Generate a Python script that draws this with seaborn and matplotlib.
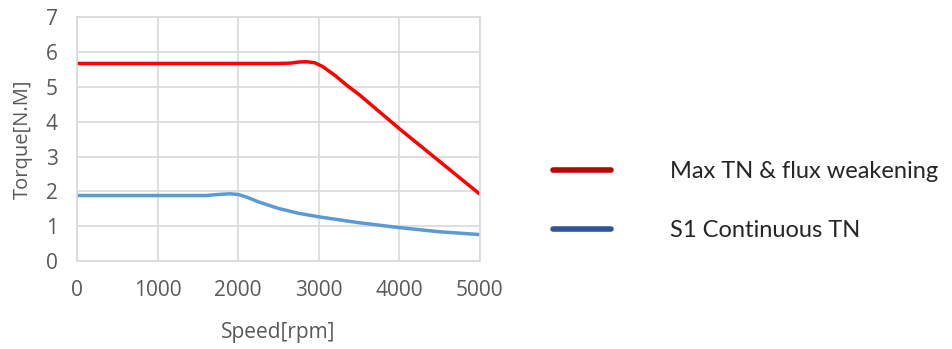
import matplotlib.pyplot as plt
from matplotlib.lines import Line2D
import pandas as pd
import seaborn as sns

# values
max_speed = [0, 500, 1000, 1500, 2000, 2500, 2650, 2750, 2850, 2950, 3050,
             3200, 3350, 3500, 4000, 4500, 5000]
max_torque = [5.67, 5.67, 5.67, 5.67, 5.67, 5.67, 5.68, 5.71, 5.72, 5.69, 5.58,
              5.33, 5.04, 4.78, 3.80, 2.86, 1.92]

s1_speed = [0, 500, 1000, 1600, 1750, 1900, 2000, 2100, 2250, 2500, 2750, 3000,
            3500, 4000, 4500, 5000]
s1_torque = [1.88, 1.88, 1.88, 1.88, 1.91, 1.93, 1.91, 1.84, 1.70, 1.51, 1.37, 1.27,
             1.10, 0.96, 0.84, 0.76]

x_ticks = [0, 1000, 2000, 3000, 4000, 5000]
y_ticks = [0, 1, 2, 3, 4, 5, 6, 7]
labels = ["Max TN & flux weakening", "S1 Continuous TN"]

sns.set_style("white")
plt.rcParams["font.family"] = ["Open Sans", "DejaVu Sans"]

max_df = pd.DataFrame({"speed": max_speed, "torque": max_torque})
s1_df = pd.DataFrame({"speed": s1_speed, "torque": s1_torque})

fig = plt.figure(figsize=(9.52, 3.49), dpi=100)
ax = fig.add_axes([0.081, 0.252, 0.423, 0.699])

sns.lineplot(data=max_df, x="speed", y="torque", color="#FF0000", linewidth=2.5,
             ax=ax, legend=False)
sns.lineplot(data=s1_df, x="speed", y="torque", color="#5B9BD5", linewidth=2.5,
             ax=ax, legend=False)

ax.set_xlim(0, 5000)
ax.set_ylim(0, 7)
ax.set_xticks(x_ticks)
ax.set_yticks(y_ticks)
ax.grid(True, color="#D9D9D9", linewidth=1.2)
ax.set_axisbelow(True)
for sp in ax.spines.values():
    sp.set_color("#D9D9D9")
    sp.set_linewidth(1.2)
ax.tick_params(axis="both", length=0, labelsize=15, labelcolor="#595959")
ax.tick_params(axis="x", pad=14)
ax.tick_params(axis="y", pad=14)
ax.set_xlabel("Speed[rpm]", fontsize=15, color="#595959", labelpad=15)
ax.set_ylabel("Torque[N.M]", fontsize=14.5, color="#595959", labelpad=9)

handles = [Line2D([], [], color="#C00000", linewidth=4),
           Line2D([], [], color="#2F5597", linewidth=4)]
fig.legend(handles, labels, loc="center left", bbox_to_anchor=(0.581, 0.424),
           frameon=False, handlelength=2.45, handletextpad=2.5,
           labelspacing=1.6, borderpad=0, borderaxespad=0,
           prop={"family": ["Lato", "DejaVu Sans"], "size": 17})

fig.savefig("out.png", dpi=100)
